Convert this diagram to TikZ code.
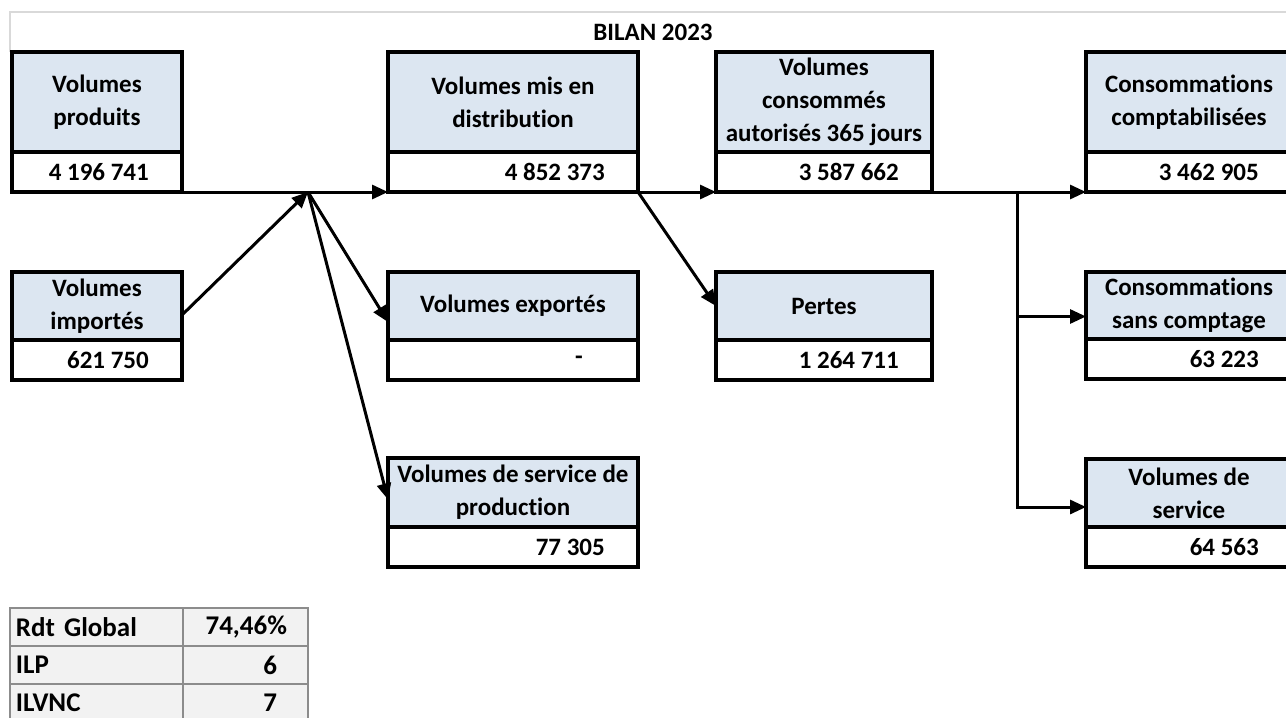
\documentclass[tikz,border=0pt]{standalone}
\usepackage{fontspec}
\setmainfont{Carlito}[Ligatures=NoCommon]
\usetikzlibrary{positioning, arrows.meta}

\definecolor{hdrblue}{HTML}{DCE6F1}
\definecolor{tabgray}{HTML}{F2F2F2}
\definecolor{tabline}{HTML}{8C8C8C}
\definecolor{gridgray}{HTML}{D9D9D9}

\tikzset{
  hdr/.style = {draw, line width=3.2pt, fill=hdrblue, outer sep=0pt, inner sep=0pt, align=center, anchor=north west},
  val/.style = {draw, line width=3.2pt, fill=white, outer sep=0pt, minimum height=40pt,
                label={[anchor=east, xshift=-33pt, inner sep=0pt]east:#1}},
  flow/.style = {line width=3pt, -{Triangle[length=16pt, width=14pt]}},
  cell/.style = {draw=tabline, line width=2pt, fill=tabgray, minimum height=38pt, anchor=north west, inner sep=0pt, inner xsep=6pt, outer sep=0pt,
                 font=\fontsize{27}{33}\selectfont\bfseries}
}

\begin{document}
\begin{tikzpicture}[x=1pt, y=-1pt, font=\fontsize{25}{33}\selectfont\bfseries]

\useasboundingbox (0,0) rectangle (1286,718);

\draw[gridgray, line width=1.5pt] (10,52) -- (10,12) -- (1286,12);
\node (title) at (653,32) {BILAN 2023};

% first row
\node[hdr, minimum width=170pt, minimum height=100pt] (hprod) at (12,52) {Volumes\\produits};
\node[val=4 196 741, minimum width=170pt, below=0pt of hprod] (vprod) {};

\node[hdr, minimum width=250pt, minimum height=100pt] (hdist) at (388,52) {Volumes mis en\\distribution};
\node[val=4 852 373, minimum width=250pt, below=0pt of hdist] (vdist) {};

\node[hdr, minimum width=216pt, minimum height=100pt] (hcons) at (716,52) {Volumes\\consommés\\autorisés 365 jours};
\node[val=3 587 662, minimum width=216pt, below=0pt of hcons] (vcons) {};

\node[hdr, minimum width=206pt, minimum height=100pt] (hcompt) at (1086,52) {Consommations\\comptabilisées};
\node[val=3 462 905, minimum width=206pt, below=0pt of hcompt] (vcompt) {};

% second row
\node[hdr, minimum width=170pt, minimum height=68pt] (himp) at (12,272) {Volumes\\importés};
\node[val=621 750, minimum width=170pt, below=0pt of himp] (vimp) {};

\node[hdr, minimum width=250pt, minimum height=68pt] (hexp) at (388,272) {Volumes exportés};
\node[val=-\hspace*{22pt}, minimum width=250pt, below=0pt of hexp] (vexp) {};

\node[hdr, minimum width=216pt, minimum height=68pt] (hpert) at (716,272) {Pertes};
\node[val=1 264 711, minimum width=216pt, below=0pt of hpert] (vpert) {};

\node[hdr, minimum width=206pt, minimum height=67pt] (hsans) at (1086,272) {Consommations\\sans comptage};
\node[val=63 223, minimum width=206pt, below=0pt of hsans] (vsans) {};

% third row
\node[hdr, minimum width=250pt, minimum height=69pt] (hsvp) at (388,458) {Volumes de service de\\production};
\node[val=77 305, minimum width=250pt, below=0pt of hsvp] (vsvp) {};

\node[hdr, minimum width=206pt, minimum height=68pt] (hserv) at (1086,459) {Volumes de\\service};
\node[val=64 563, minimum width=206pt, below=0pt of hserv] (vserv) {};

% flows
\coordinate (hub) at (308,192);
\coordinate (split) at (1017,192);

\draw[flow] (vprod.south east) -- (vdist.south west);
\draw[flow] ([yshift=-9pt]himp.east) -- (hub);
\draw[flow] (hub) -- ([yshift=-16pt]hexp.west);
\draw[flow] (hub) -- ([yshift=-7pt]hsvp.west);
\draw[flow] (vdist.south east) -- (vcons.south west);
\draw[flow] (vdist.south east) -- (hpert.west);
\draw[flow] (vcons.south east) -- (vcompt.south west);
\draw[flow] ([yshift=-11pt]hsans.west -| split) -- ([yshift=-11pt]hsans.west);
\draw[flow] (split) |- ([yshift=-14pt]hserv.west);

% indicators
\node[cell, minimum width=173pt, text width=161pt, align=left] (lrdt) at (10,608) {Rdt Global};
\node[cell, minimum width=125pt, text width=83pt, inner xsep=21pt, align=right, right=0pt of lrdt] (vrdt) {74,46\%};
\node[cell, minimum width=173pt, text width=161pt, align=left, below=0pt of lrdt] (lilp) {ILP};
\node[cell, minimum width=125pt, text width=63pt, inner xsep=31pt, align=right, right=0pt of lilp] (vilp) {6};
\node[cell, minimum width=173pt, text width=161pt, align=left, below=0pt of lilp] (lnc) {ILVNC};
\node[cell, minimum width=125pt, text width=63pt, inner xsep=31pt, align=right, right=0pt of lnc] (vnc) {7};

\end{tikzpicture}
\end{document}
